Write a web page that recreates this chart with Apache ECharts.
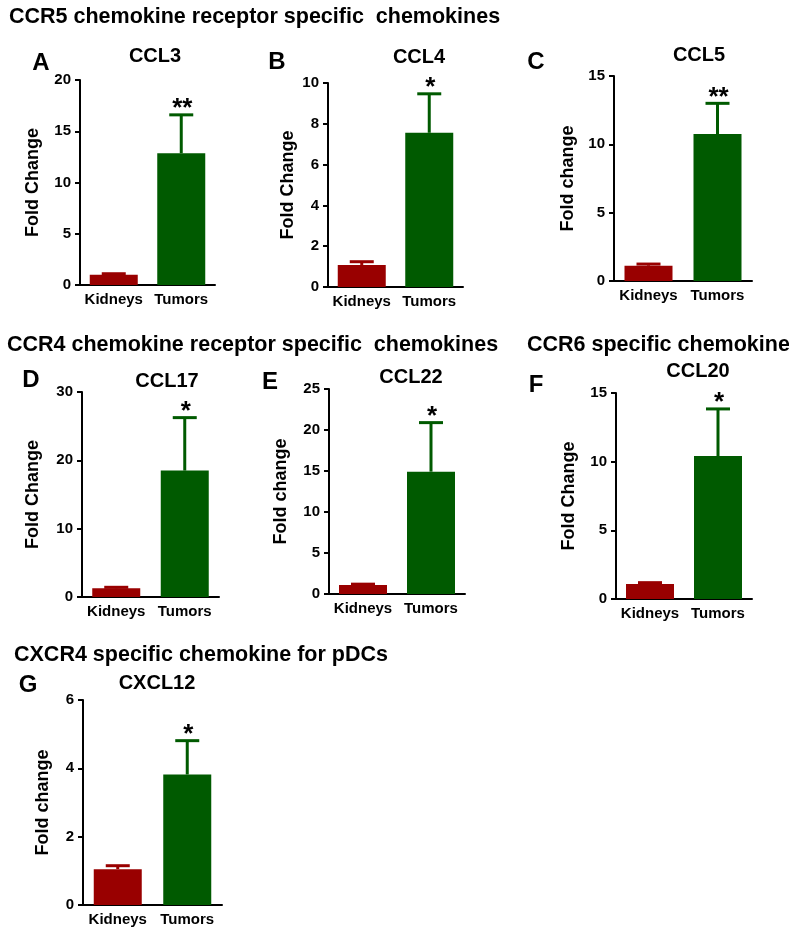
<!DOCTYPE html>
<html>
<head>
<meta charset="utf-8">
<script src="https://cdn.jsdelivr.net/npm/echarts@6/dist/echarts.min.js"></script>
<style>html,body{margin:0;padding:0;background:#fff}#c{width:789px;height:940px}</style>
</head>
<body>
<div id="c"></div>
<script>
// ---- data ----
const categories = ['Kidneys', 'Tumors'];
const panelNames = ['CCL3', 'CCL4', 'CCL5', 'CCL17', 'CCL22', 'CCL20', 'CXCL12'];
const panelLetters = ['A', 'B', 'C', 'D', 'E', 'F', 'G'];
const yAxisNames = ['Fold Change', 'Fold Change', 'Fold change', 'Fold Change', 'Fold change', 'Fold Change', 'Fold change'];
const kidneyMeans = [1.0, 1.08, 1.12, 1.27, 1.1, 1.09, 1.05];
const kidneyErrTop = [1.1, 1.24, 1.24, 1.42, 1.2, 1.19, 1.15];
const tumorMeans = [12.85, 7.56, 10.75, 18.5, 14.92, 10.41, 3.82];
const tumorErrTop = [16.6, 9.47, 13.0, 26.25, 20.9, 13.84, 4.81];
const significance = ['**', '*', '**', '*', '*', '*', '*'];
const yMax = [20, 10, 15, 30, 25, 15, 6];
const yInterval = [5, 2, 5, 10, 5, 5, 2];
const sectionTitles = [
  'CCR5 chemokine receptor specific  chemokines',
  'CCR4 chemokine receptor specific  chemokines',
  'CCR6 specific chemokine',
  'CXCR4 specific chemokine for pDCs'
];

// ---- layout ----
const grids = [
  {left: 80, top: 80, width: 135, height: 205},
  {left: 328, top: 83, width: 135, height: 204},
  {left: 614, top: 76, width: 138, height: 205},
  {left: 82, top: 392, width: 137, height: 205},
  {left: 329, top: 389, width: 136, height: 205},
  {left: 616, top: 393, width: 136, height: 206},
  {left: 83, top: 700, width: 139, height: 205}
];
const nameGaps = [38, 31, 37, 40, 39, 38, 31];
const titlePos = [[155, 56], [419, 57], [699, 55], [167, 381], [411, 377], [698, 371], [157, 683]];
const letterPos = [[41, 63], [277, 62], [536, 62], [31, 380], [270, 382], [536, 385], [28, 685]];
const sectionPos = [[9, 17], [7, 345], [527, 345], [14, 655]];

const RED = '#990000';
const GREEN = '#005a00';
const FONT = '"Liberation Sans", Arial, Helvetica, sans-serif';

const option = {
  animation: false,
  backgroundColor: '#fff',
  grid: [], xAxis: [], yAxis: [], series: [], graphic: []
};

sectionTitles.forEach((t, i) => {
  option.graphic.push({type: 'text', x: sectionPos[i][0], y: sectionPos[i][1],
    style: {text: t, font: 'bold 21.5px ' + FONT, fill: '#000', textVerticalAlign: 'middle'}});
});

grids.forEach((g, i) => {
  option.grid.push(Object.assign({outerBoundsMode: 'none', containLabel: false}, g));
  option.xAxis.push({
    type: 'category', gridIndex: i, data: categories,
    axisLine: {lineStyle: {color: '#000', width: 2}},
    axisTick: {alignWithLabel: true, length: 5, lineStyle: {color: '#000', width: 2}},
    axisLabel: {color: '#000', fontWeight: 'bold', fontSize: 15, fontFamily: FONT, margin: 7, interval: 0},
    splitLine: {show: false}
  });
  option.yAxis.push({
    type: 'value', gridIndex: i, min: 0, max: yMax[i], interval: yInterval[i],
    name: yAxisNames[i], nameLocation: 'middle', nameGap: nameGaps[i],
    nameTextStyle: {color: '#000', fontWeight: 'bold', fontSize: 18, fontFamily: FONT},
    axisLine: {show: true, lineStyle: {color: '#000', width: 2}},
    axisTick: {show: true, length: 5, lineStyle: {color: '#000', width: 2}},
    axisLabel: {color: '#000', fontWeight: 'bold', fontSize: 15, fontFamily: FONT, margin: 9},
    splitLine: {show: false}
  });
  option.series.push({
    type: 'bar', xAxisIndex: i, yAxisIndex: i, barWidth: 48,
    data: [
      {value: kidneyMeans[i], itemStyle: {color: RED}},
      {value: tumorMeans[i], itemStyle: {color: GREEN}}
    ]
  });
  const stars = ['', significance[i]];
  const colors = [RED, GREEN];
  option.series.push({
    type: 'custom', xAxisIndex: i, yAxisIndex: i, z: 3,
    data: [[0, kidneyMeans[i], kidneyErrTop[i]], [1, tumorMeans[i], tumorErrTop[i]]],
    renderItem: function (params, api) {
      const idx = api.value(0);
      const base = api.coord([idx, api.value(1)]);
      const top = api.coord([idx, api.value(2)]);
      const col = colors[params.dataIndex];
      const children = [
        {type: 'line', shape: {x1: base[0], y1: base[1], x2: top[0], y2: top[1]},
          style: {stroke: col, lineWidth: 3}},
        {type: 'line', shape: {x1: top[0] - 12, y1: top[1], x2: top[0] + 12, y2: top[1]},
          style: {stroke: col, lineWidth: 3}}
      ];
      const s = stars[params.dataIndex];
      if (s) {
        children.push({type: 'text', x: top[0] + 1, y: top[1] - 6,
          style: {text: s, font: 'bold 26px ' + FONT, fill: '#000', textAlign: 'center', textVerticalAlign: 'middle'}});
      }
      return {type: 'group', children: children};
    }
  });
  option.graphic.push({type: 'text', x: titlePos[i][0], y: titlePos[i][1],
    style: {text: panelNames[i], font: 'bold 20px ' + FONT, fill: '#000', textAlign: 'center', textVerticalAlign: 'middle'}});
  option.graphic.push({type: 'text', x: letterPos[i][0], y: letterPos[i][1],
    style: {text: panelLetters[i], font: 'bold 24px ' + FONT, fill: '#000', textAlign: 'center', textVerticalAlign: 'middle'}});
});

const chart = echarts.init(document.getElementById('c'), null, {renderer: 'canvas'});
chart.setOption(option);
</script>
</body>
</html>
